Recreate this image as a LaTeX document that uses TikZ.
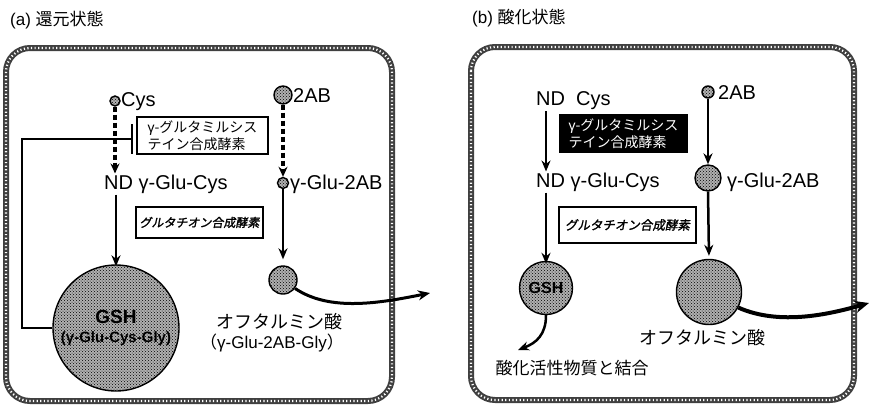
\documentclass[tikz,border=0pt]{standalone}
\usepackage{fontspec}
\setmainfont{Liberation Sans}
\newfontfamily\jp{Noto Sans CJK JP}
\newfontfamily\jpsl[FakeSlant=0.18,FakeBold=1.5]{Noto Sans CJK JP}
\usetikzlibrary{arrows.meta,patterns}
\tikzset{
  cellwall/.style={rounded corners=24, line width=6, draw=black!75,
    postaction={draw=white, line width=2.2, dash pattern=on 1.2 off 2.4, rounded corners=24}},
  lbl/.style={inner sep=1, font=\fontsize{20}{22}\selectfont},
  jlbl/.style={inner sep=1, font=\jp\fontsize{18}{22}\selectfont},
  blob/.style={circle, draw=black, line width=1.4, inner sep=0, fill=gray!62,
    postaction={pattern=crosshatch dots, pattern color=black}},
  enzbox/.style={draw=black, line width=1.8, inner sep=3, align=left, anchor=center},
  dasharrow/.style={line width=3.2, dash pattern=on 5 off 3, -{Stealth[length=10,width=9]}},
  solarrow/.style={line width=2.5, -{Stealth[length=11,width=9]}},
  curvarrow/.style={line width=3, -{Stealth[length=12,width=10]}},
}
\begin{document}
\begin{tikzpicture}[x=1pt,y=-1pt]
\useasboundingbox (0,0) rectangle (872,410);
\fill[white] (0,0) rectangle (872,410);

% ---------------- panel (a) ----------------
\node[anchor=west, inner sep=0, font=\fontsize{17}{20}\selectfont] (titleA) at (10,20) {(a) {\jp 還元状態}};
\draw[cellwall] (6,48) rectangle (392,401);

\node[blob, minimum size=10] (cysA) at (115,101) {};
\node[lbl, anchor=west] (cysAt) at (120,102) {Cys};
\node[blob, minimum size=18] (abA) at (283,95) {};
\node[lbl, anchor=west] (abAt) at (292,96) {2AB};

\node[enzbox, minimum width=131, minimum height=37, font=\jp\fontsize{14}{17}\selectfont] (enzA1) at (202.5,135.5)
  {{\fontsize{14}{17}\selectfont\rmfamily γ}-グルタミルシス\\テイン合成酵素};

\node[lbl, anchor=west] (ndA) at (103,184) {ND γ-Glu-Cys};
\node[blob, minimum size=11] (ggA) at (283,183) {};
\node[lbl, anchor=west] (ggAt) at (289,184) {γ-Glu-2AB};

\node[enzbox, minimum width=127, minimum height=31, font=\jpsl\fontsize{12}{14}\selectfont] (enzA2) at (199.5,222.5)
  {グルタチオン合成酵素};

\node[blob, minimum size=126, align=center, font=\bfseries\fontsize{15}{19}\selectfont] (gshA) at (116,328)
  {{\fontsize{19}{19}\selectfont GSH}\\(γ-Glu-Cys-Gly)};
\node[blob, minimum size=28] (ophA) at (283,280) {};

\node[jlbl, font=\jp\fontsize{18}{22}\selectfont] (ophAt) at (279,322) {オフタルミン酸};
\node[lbl, font=\fontsize{17}{20}\selectfont] (ophAt2) at (272,343) {{\jp （}γ-Glu-2AB-Gly{\jp ）}};

% arrows (a)
\draw[dasharrow] (cysA.south) -- (cysA.south |- ndA.north);
\draw[dasharrow] (abA.south) -- (ggA.north);
\draw[solarrow] (gshA.north |- ndA.south) -- ([yshift=-2]gshA.north);
\draw[solarrow, shorten >=6] (ggA.south) -- (ophA.north);
\coordinate (fbx) at (22,0);
\coordinate (tbarA) at (133,139);
\draw[line width=2.2, -{Bar[width=30,line width=2.4]}] (gshA.west) -- (gshA.west -| fbx) |- (tbarA);
\coordinate (exitA) at (430,293);
\draw[curvarrow] (ophA.-35) .. controls (330,312) and (380,303) .. (exitA);

% ---------------- panel (b) ----------------
\node[anchor=west, inner sep=0, font=\fontsize{17}{20}\selectfont] (titleB) at (472,18) {(b) {\jp 酸化状態}};
\draw[cellwall] (471,47) rectangle (854,400);

\node[lbl, anchor=west] (ndcB) at (535,101) {ND\ \ Cys};
\node[blob, minimum size=12] (abB) at (708,92) {};
\node[lbl, anchor=west] (abBt) at (717,93) {2AB};

\node[enzbox, fill=black, text=white, minimum width=127, minimum height=37, font=\jp\fontsize{14}{17}\selectfont] (enzB1) at (623.5,133.5)
  {{\fontsize{14}{17}\selectfont\rmfamily γ}-グルタミルシス\\テイン合成酵素};

\node[lbl, anchor=west] (ndB) at (535,182) {ND γ-Glu-Cys};
\node[blob, minimum size=26] (ggB) at (708,178) {};
\node[lbl, anchor=west] (ggBt) at (726,182) {γ-Glu-2AB};

\node[enzbox, minimum width=137, minimum height=36, font=\jpsl\fontsize{12.5}{15}\selectfont] (enzB2) at (627.5,225)
  {グルタチオン合成酵素};

\node[blob, minimum size=53, font=\bfseries\fontsize{16}{18}\selectfont] (gshB) at (546,288) {GSH};
\node[blob, minimum size=65] (ophB) at (709,292) {};

\node[jlbl] (ophBt) at (702,338) {オフタルミン酸};
\node[jlbl, font=\jp\fontsize{17}{20}\selectfont] (bindB) at (572,368) {酸化活性物質と結合};

% arrows (b)
\draw[solarrow] (gshB.north |- ndcB.south) -- (gshB.north |- ndB.north);
\draw[solarrow] (gshB.north |- ndB.south) -- ([yshift=-3]gshB.north);
\draw[solarrow] (abB.south) -- (ggB.north);
\draw[solarrow, shorten >=3] (ggB.south) -- (ophB.north);
\coordinate (exitB) at (869,303);
\draw[line width=4, -{Stealth[length=14,width=12]}] (ophB.-28) .. controls (780,326) and (830,314) .. (exitB);
\coordinate (bindEnd) at (518,350);
\draw[line width=2.5, -{Stealth[length=11,width=9]}] (gshB.south) .. controls (546,335) and (536,343) .. (bindEnd);
\end{tikzpicture}
\end{document}
